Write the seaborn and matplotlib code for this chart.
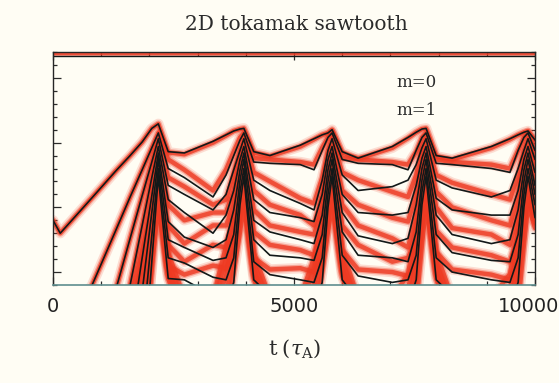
import matplotlib
matplotlib.use("Agg")
import matplotlib.pyplot as plt
import matplotlib.transforms as mtransforms
from matplotlib.ticker import MultipleLocator, NullFormatter
import pandas as pd
import seaborn as sns

# ---------------------------------------------------------------------------
# Sample times (in Alfven times) shared by every harmonic
# ---------------------------------------------------------------------------
t = [0, 150, 800, 1300, 1600, 1850, 2050,
     2185, 2390, 2725, 3320, 3590, 3750, 3880,
     3960, 4165, 4500, 5130, 5415, 5585, 5705,
     5790, 6000, 6330, 7040, 7365, 7535, 7655,
     7740, 7950, 8280, 9095, 9480, 9650, 9770,
     9855, 10000]

# log10 of the mode energy, m = 0 harmonics (n = 1 .. 8)
m0_n1 = [-16.0, -17.0, -14.3, -12.2, -11.0, -9.95, -8.9,
         -8.55, -10.7, -10.8, -9.9, -9.4, -9.1, -8.95,
         -8.9, -10.7, -11.0, -10.2, -9.7, -9.4, -9.25,
         -9.0, -10.7, -11.2, -10.3, -9.6, -9.2, -8.95,
         -8.9, -11.0, -11.2, -10.3, -9.7, -9.4, -9.2,
         -9.1, -9.8]
m0_n2 = [-24.0, -23.5, -21.1, -16.8, -14.2, -12.1, -10.4,
         -9.25, -12.0, -12.7, -14.2, -12.5, -11.0, -9.8,
         -9.25, -11.5, -11.6, -11.7, -12.1, -10.6, -9.6,
         -9.25, -11.3, -11.6, -11.7, -12.1, -10.6, -9.6,
         -9.25, -11.6, -11.7, -12.0, -12.3, -10.6, -9.6,
         -9.25, -10.6]
m0_n3 = [-26.0, -25.5, -24.0, -21.4, -17.4, -14.1, -11.5,
         -9.7, -13.3, -14.0, -15.2, -14.0, -12.1, -10.6,
         -9.7, -12.9, -13.7, -14.7, -15.2, -12.9, -10.6,
         -9.7, -12.5, -13.7, -13.4, -12.9, -11.7, -10.4,
         -9.7, -12.9, -13.5, -14.2, -13.7, -12.0, -10.6,
         -9.7, -11.3]
m0_n4 = [-28.0, -28.0, -27.0, -26.4, -21.0, -16.4, -12.7,
         -10.3, -14.4, -15.4, -17.0, -15.6, -13.7, -11.3,
         -10.3, -14.4, -15.4, -15.8, -16.1, -14.0, -11.3,
         -10.3, -14.0, -15.4, -15.6, -15.4, -13.3, -11.2,
         -10.3, -14.3, -15.2, -15.6, -15.6, -13.7, -11.3,
         -10.3, -12.3]
m0_n5 = [-29.0, -29.0, -28.0, -27.0, -25.0, -18.9, -14.1,
         -10.8, -16.1, -17.3, -18.1, -17.5, -15.2, -12.1,
         -10.8, -16.0, -16.9, -17.5, -17.8, -15.6, -12.1,
         -10.8, -15.4, -17.2, -17.8, -17.4, -14.8, -12.0,
         -10.8, -15.6, -17.1, -17.8, -17.5, -15.2, -12.1,
         -10.8, -13.3]
m0_n6 = [-30.0, -30.0, -29.0, -29.0, -29.0, -21.5, -15.4,
         -11.3, -17.5, -18.1, -19.1, -18.9, -17.1, -12.9,
         -11.3, -17.5, -18.7, -18.9, -19.1, -17.1, -13.0,
         -11.3, -16.9, -18.7, -18.9, -19.2, -16.9, -12.9,
         -11.3, -17.1, -18.5, -19.1, -19.2, -17.1, -13.0,
         -11.3, -14.0]
m0_n7 = [-31.0, -31.0, -30.0, -30.0, -30.0, -24.8, -17.2,
         -12.0, -18.9, -19.3, -20.4, -20.6, -18.9, -13.8,
         -12.0, -19.2, -20.2, -20.6, -20.8, -18.9, -14.0,
         -12.0, -18.7, -20.3, -20.8, -20.6, -18.7, -13.8,
         -12.0, -18.9, -20.0, -20.6, -20.8, -18.9, -14.0,
         -12.0, -14.8]
m0_n8 = [-32.0, -32.0, -31.0, -31.0, -31.0, -28.9, -19.2,
         -12.6, -20.5, -20.6, -21.8, -22.6, -20.8, -14.8,
         -12.6, -20.6, -21.8, -22.2, -22.6, -20.8, -15.0,
         -12.6, -20.6, -22.2, -22.9, -22.6, -20.6, -14.8,
         -12.6, -20.6, -21.8, -22.6, -22.6, -20.8, -15.0,
         -12.6, -15.8]

# equilibrium (n = 0) levels, flat in time
m0_n0 = -3.33
m1_n0 = -3.18

# log10 of the mode energy, m = 1 harmonics (n = 1 .. 12)
m1_n1 = [-16.0, -17.0, -14.3, -12.2, -11.0, -9.95, -8.9,
         -8.55, -10.75, -10.9, -10.0, -9.45, -9.1, -8.95,
         -8.9, -10.75, -11.05, -10.3, -9.75, -9.4, -9.25,
         -9.0, -10.75, -11.25, -10.4, -9.65, -9.2, -8.95,
         -8.9, -11.05, -11.3, -10.4, -9.75, -9.4, -9.2,
         -9.1, -9.8]
m1_n2 = [-24.0, -23.5, -21.1, -16.8, -14.2, -12.1, -10.4,
         -9.25, -11.3, -12.1, -13.7, -12.1, -10.7, -9.6,
         -9.25, -11.2, -11.3, -11.5, -11.7, -10.4, -9.6,
         -9.25, -11.2, -11.3, -11.5, -11.7, -10.7, -9.6,
         -9.25, -11.3, -11.5, -11.7, -12.0, -10.6, -9.6,
         -9.25, -10.6]
m1_n3 = [-26.0, -25.5, -24.0, -21.4, -17.4, -14.1, -11.5,
         -9.7, -12.7, -13.4, -14.8, -14.4, -12.3, -10.6,
         -9.7, -12.3, -13.0, -14.3, -14.7, -12.7, -10.6,
         -9.7, -12.3, -12.9, -13.8, -14.2, -12.5, -10.4,
         -9.7, -12.5, -13.1, -14.0, -14.4, -12.5, -10.6,
         -9.7, -11.3]
m1_n4 = [-28.0, -28.0, -27.0, -26.4, -21.0, -16.4, -12.7,
         -10.3, -14.8, -16.0, -15.4, -15.4, -13.7, -11.3,
         -10.3, -13.7, -14.8, -15.6, -16.4, -14.0, -11.3,
         -10.3, -13.7, -14.8, -15.8, -16.1, -14.0, -11.2,
         -10.3, -13.8, -15.0, -16.0, -16.4, -14.0, -11.3,
         -10.3, -12.1]
m1_n5 = [-29.0, -29.0, -28.0, -27.0, -25.0, -18.9, -14.1,
         -10.8, -16.4, -17.8, -16.4, -16.4, -14.8, -12.0,
         -10.8, -15.2, -16.4, -16.9, -17.1, -15.2, -12.1,
         -10.8, -14.8, -16.4, -17.4, -18.1, -15.6, -12.0,
         -10.8, -15.0, -16.6, -17.1, -17.9, -15.4, -12.1,
         -10.8, -12.9]
m1_n6 = [-30.0, -30.0, -29.0, -29.0, -29.0, -21.5, -15.4,
         -11.3, -17.9, -19.2, -17.9, -18.1, -16.6, -12.9,
         -11.3, -16.9, -17.9, -18.3, -18.7, -16.8, -12.9,
         -11.3, -16.4, -17.9, -19.2, -18.9, -17.5, -12.9,
         -11.3, -16.8, -18.1, -18.7, -19.2, -17.4, -13.0,
         -11.3, -13.7]
m1_n7 = [-31.0, -31.0, -30.0, -30.0, -30.0, -24.8, -17.2,
         -12.0, -19.5, -20.2, -19.5, -19.7, -18.3, -13.7,
         -12.0, -18.9, -19.8, -19.7, -20.0, -18.3, -13.8,
         -12.0, -18.3, -19.8, -20.0, -20.3, -19.2, -13.8,
         -12.0, -18.45, -19.8, -20.2, -20.6, -18.9, -14.0,
         -12.0, -14.3]
m1_n8 = [-32.0, -32.0, -31.0, -31.0, -31.0, -28.9, -19.2,
         -12.6, -18.5, -22.0, -22.0, -18.0, -15.6, -13.8,
         -12.6, -18.5, -22.0, -22.0, -18.9, -16.1, -14.0,
         -12.6, -18.3, -22.0, -22.0, -20.15, -16.8, -14.25,
         -12.6, -18.5, -22.0, -22.0, -20.15, -16.8, -14.25,
         -12.6, -14.7]
m1_n9 = [-32.0, -32.0, -31.0, -30.0, -22.3, -18.35, -15.2,
         -13.1, -19.3, -22.5, -22.5, -19.0, -16.4, -14.4,
         -13.1, -19.3, -22.5, -22.5, -19.9, -16.9, -14.6,
         -13.1, -19.1, -22.5, -22.5, -21.5, -17.75, -14.95,
         -13.1, -19.3, -22.5, -22.5, -21.5, -17.75, -14.95,
         -13.1, -15.2]
m1_n10 = [-33.0, -33.0, -32.0, -31.0, -30.0, -23.2, -17.6,
          -13.7, -19.8, -23.0, -23.0, -20.3, -17.4, -15.2,
          -13.7, -19.8, -23.0, -23.0, -21.0, -17.8, -15.35,
          -13.7, -19.6, -23.0, -23.0, -23.1, -18.9, -15.8,
          -13.7, -19.8, -23.0, -23.0, -23.1, -18.9, -15.8,
          -13.7, -15.8]
m1_n11 = [-34.0, -34.0, -33.0, -32.0, -23.6, -19.6, -16.4,
          -14.3, -20.2, -23.5, -23.5, -21.9, -18.5, -15.95,
          -14.3, -20.2, -23.5, -23.5, -22.35, -18.8, -16.1,
          -14.3, -20.0, -23.5, -23.5, -25.3, -20.4, -16.7,
          -14.3, -20.2, -23.5, -23.5, -25.3, -20.4, -16.7,
          -14.3, -16.2]
m1_n12 = [-35.0, -35.0, -34.0, -33.0, -32.0, -27.0, -19.7,
          -14.8, -20.5, -24.0, -24.0, -24.1, -20.0, -16.9,
          -14.8, -20.5, -24.0, -24.0, -24.1, -20.0, -16.9,
          -14.8, -20.3, -24.0, -24.0, -27.0, -22.6, -17.9,
          -14.8, -20.5, -24.0, -24.0, -27.0, -22.6, -17.9,
          -14.8, -16.6]

x_ticks = [0, 5000, 10000]
x_tick_labels = ["0", "5000", "10000"]
title_text = "2D tokamak sawtooth"
legend_labels = ["m=0", "m=1"]

# ---------------------------------------------------------------------------
# Long-form tables for seaborn
# ---------------------------------------------------------------------------
m0_series = [m0_n1, m0_n2, m0_n3, m0_n4, m0_n5, m0_n6, m0_n7, m0_n8]
m1_series = [m1_n1, m1_n2, m1_n3, m1_n4, m1_n5, m1_n6, m1_n7, m1_n8,
             m1_n9, m1_n10, m1_n11, m1_n12]


def long_table(series_list):
    frames = []
    for n, vals in enumerate(series_list, start=1):
        frames.append(pd.DataFrame({"t": t, "logE": vals, "n": n}))
    return pd.concat(frames, ignore_index=True)


def flat_table(level):
    return pd.DataFrame({"t": [t[0], t[-1]], "logE": [level, level], "n": 0})


df_m0 = long_table(m0_series)
df_m1 = long_table(m1_series)
df_m0_eq = flat_table(m0_n0)
df_m1_eq = flat_table(m1_n0)

# ---------------------------------------------------------------------------
# Figure
# ---------------------------------------------------------------------------
sns.set_theme(style="ticks")
bg = "#FFFDF4"
red = "#EE3A22"
ink = "#121818"
plt.rcParams["font.family"] = ["DejaVu Sans"]
plt.rcParams["mathtext.fontset"] = "dejavuserif"

fig = plt.figure(figsize=(5.59, 3.83), dpi=100, facecolor=bg)
ax = fig.add_axes([0.09481, 0.25587, 0.86226, 0.60836])
ax.set_facecolor(bg)

line_kw = dict(x="t", y="logE", units="n", estimator=None, sort=False,
               legend=False, ax=ax, solid_joinstyle="round",
               solid_capstyle="round")

# m = 1 harmonics: soft red bands (wide faint halo, then a saturated core)
for lw, alpha in [(7.5, 0.16), (5.0, 0.35), (3.2, 0.8)]:
    sns.lineplot(data=df_m1, color=red, lw=lw, alpha=alpha, **line_kw)
    sns.lineplot(data=df_m1_eq, color=red, lw=lw * 0.55, alpha=alpha,
                 **line_kw)

# m = 0 harmonics: thin dark lines
sns.lineplot(data=df_m0, color=ink, lw=1.2, **line_kw)
sns.lineplot(data=df_m0_eq, color=ink, lw=1.0, **line_kw)

ax.set_xlim(0, 10000)
ax.set_ylim(-21, -3)
ax.set_xticks(x_ticks)
ax.set_xticklabels(x_tick_labels)
ax.xaxis.set_minor_locator(MultipleLocator(1000))
ax.yaxis.set_major_locator(MultipleLocator(5))
ax.yaxis.set_minor_locator(MultipleLocator(1))
ax.yaxis.set_major_formatter(NullFormatter())
ax.set_xlabel("")
ax.set_ylabel("")

ax.tick_params(which="both", direction="in", top=True, right=True,
               color="#2a2a2a", width=0.9)
ax.tick_params(which="major", length=5.5)
ax.tick_params(which="minor", length=3)
ax.tick_params(axis="x", which="major", labelsize=14, pad=8.5,
               labelcolor="#222222")

for side in ["left", "right", "top"]:
    ax.spines[side].set_color("#262626")
    ax.spines[side].set_linewidth(1.0)
ax.spines["bottom"].set_color("#5f8e8e")
ax.spines["bottom"].set_linewidth(1.2)

# keep the last tick label inside the canvas
last = ax.get_xticklabels()[-1]
last.set_transform(last.get_transform() +
                   mtransforms.ScaledTranslation(-0.06, 0, fig.dpi_scale_trans))

serif = ["DejaVu Serif"]
fig.text(296 / 559, 1 - 30 / 383, title_text, ha="center", va="baseline",
         family=serif, size=14.5, color="#2b2b2b")
fig.text(417 / 559, 1 - 87 / 383, legend_labels[0], ha="center",
         va="baseline", family=serif, size=12, color="#2b2b2b")
fig.text(417 / 559, 1 - 115 / 383, legend_labels[1], ha="center",
         va="baseline", family=serif, size=12, color="#2b2b2b")
fig.text(295 / 559, 1 - 355 / 383, r"$\mathrm{t}\;(\tau_{\mathrm{A}})$",
         ha="center", va="baseline", size=15, color="#2b2b2b")

fig.savefig("out.png", dpi=100, facecolor=bg)
